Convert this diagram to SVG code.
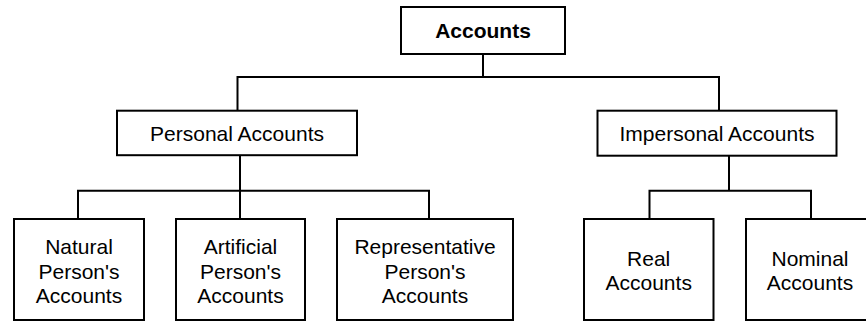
<svg xmlns="http://www.w3.org/2000/svg" width="866" height="322" viewBox="0 0 866 322">
<style>
.box{fill:#fff;stroke:#000;stroke-width:2}
.c{fill:none;stroke:#000;stroke-width:2}
text{font-family:"Liberation Sans",Arial,sans-serif;font-size:21px;fill:#000;text-anchor:middle}
.b{font-weight:bold}
</style>
<rect width="866" height="322" fill="#fff"/>
<g id="connectors">
<path class="c" d="M483,54V77M237.5,110.7V77H719V110.7"/>
<path class="c" d="M240,155V190.7M78,219V190.7H429V219M240,190.7V219"/>
<path class="c" d="M729,155.7V190.7M649.5,219V190.7H811V219"/>
</g>
<g id="accounts">
<rect class="box" x="401" y="7" width="164" height="47"/>
<text class="b" x="483" y="37.5">Accounts</text>
</g>
<g id="personal">
<rect class="box" x="117" y="110.7" width="240" height="44.5"/>
<text x="237" y="141">Personal Accounts</text>
</g>
<g id="impersonal">
<rect class="box" x="597.5" y="110.7" width="239" height="45"/>
<text x="717" y="141">Impersonal Accounts</text>
</g>
<g id="natural">
<rect class="box" x="14" y="219" width="130" height="101"/>
<text x="79" y="254">Natural</text>
<text x="79" y="279">Person's</text>
<text x="79" y="303">Accounts</text>
</g>
<g id="artificial">
<rect class="box" x="176" y="219" width="129" height="101"/>
<text x="240.5" y="254">Artificial</text>
<text x="240.5" y="279">Person's</text>
<text x="240.5" y="303">Accounts</text>
</g>
<g id="representative">
<rect class="box" x="337" y="219" width="176" height="101"/>
<text x="425" y="254">Representative</text>
<text x="425" y="279">Person's</text>
<text x="425" y="303">Accounts</text>
</g>
<g id="real">
<rect class="box" x="584" y="219" width="129.5" height="101"/>
<text x="648.7" y="266">Real</text>
<text x="648.7" y="290">Accounts</text>
</g>
<g id="nominal">
<rect class="box" x="746" y="219" width="128" height="101"/>
<text x="810" y="266">Nominal</text>
<text x="810" y="290">Accounts</text>
</g>
</svg>
